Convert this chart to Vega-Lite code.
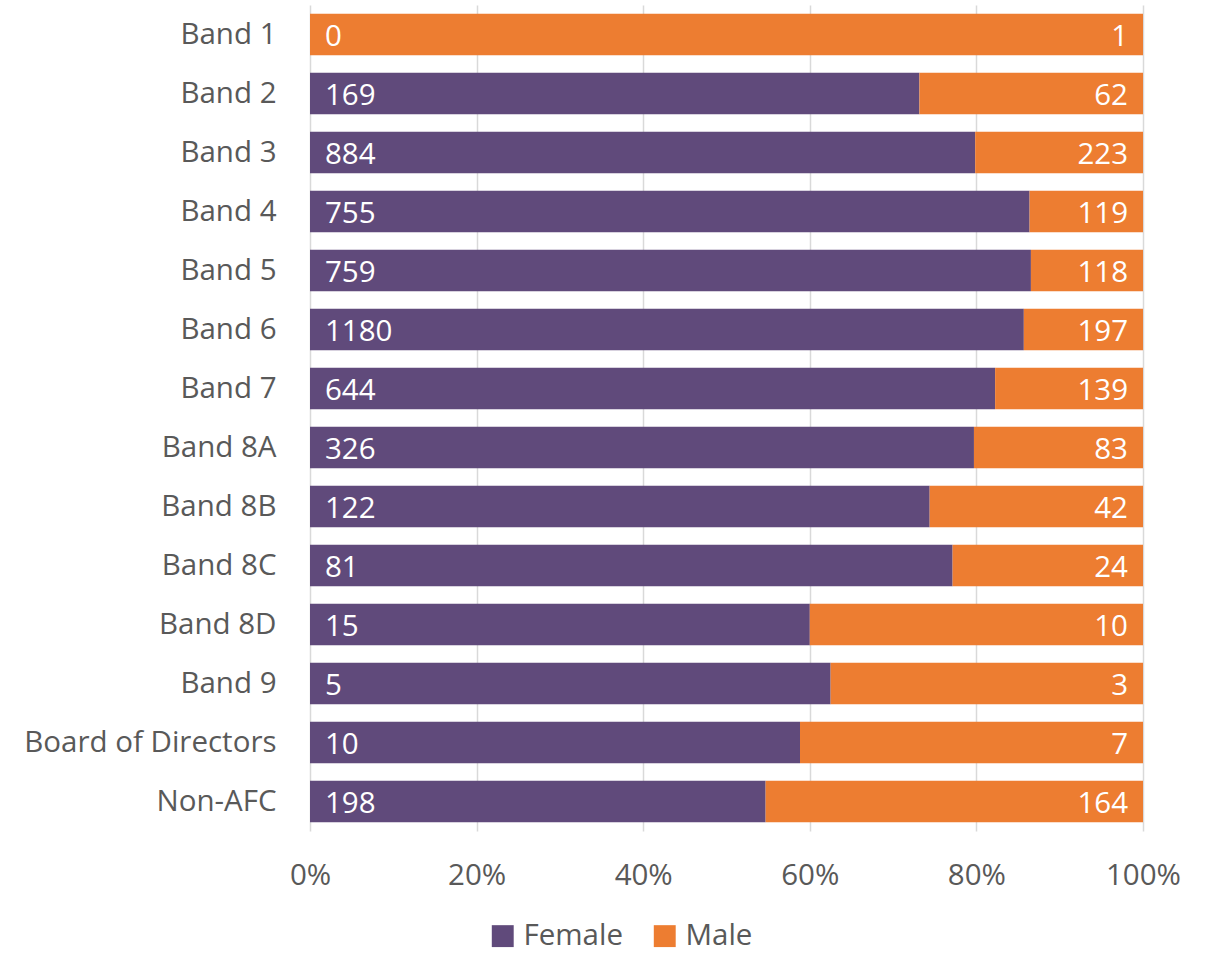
{
  "$schema": "https://vega.github.io/schema/vega-lite/v6.json",
  "width": 833,
  "height": 826,
  "autosize": "none",
  "padding": {"left": 310, "top": 5, "right": 65, "bottom": 123},
  "background": "white",
  "config": {
    "font": "Open Sans",
    "view": {"stroke": null},
    "axis": {"labelColor": "#595959", "labelFontSize": 29.5, "labelFont": "Open Sans", "title": null}
  },
  "data": {"values": [
    {"band": "Band 1", "sex": "Female", "count": 0},
    {"band": "Band 1", "sex": "Male", "count": 1},
    {"band": "Band 2", "sex": "Female", "count": 169},
    {"band": "Band 2", "sex": "Male", "count": 62},
    {"band": "Band 3", "sex": "Female", "count": 884},
    {"band": "Band 3", "sex": "Male", "count": 223},
    {"band": "Band 4", "sex": "Female", "count": 755},
    {"band": "Band 4", "sex": "Male", "count": 119},
    {"band": "Band 5", "sex": "Female", "count": 759},
    {"band": "Band 5", "sex": "Male", "count": 118},
    {"band": "Band 6", "sex": "Female", "count": 1180},
    {"band": "Band 6", "sex": "Male", "count": 197},
    {"band": "Band 7", "sex": "Female", "count": 644},
    {"band": "Band 7", "sex": "Male", "count": 139},
    {"band": "Band 8A", "sex": "Female", "count": 326},
    {"band": "Band 8A", "sex": "Male", "count": 83},
    {"band": "Band 8B", "sex": "Female", "count": 122},
    {"band": "Band 8B", "sex": "Male", "count": 42},
    {"band": "Band 8C", "sex": "Female", "count": 81},
    {"band": "Band 8C", "sex": "Male", "count": 24},
    {"band": "Band 8D", "sex": "Female", "count": 15},
    {"band": "Band 8D", "sex": "Male", "count": 10},
    {"band": "Band 9", "sex": "Female", "count": 5},
    {"band": "Band 9", "sex": "Male", "count": 3},
    {"band": "Board of Directors", "sex": "Female", "count": 10},
    {"band": "Board of Directors", "sex": "Male", "count": 7},
    {"band": "Non-AFC", "sex": "Female", "count": 198},
    {"band": "Non-AFC", "sex": "Male", "count": 164}
  ]},
  "encoding": {
    "y": {
      "field": "band", "type": "nominal", "sort": null,
      "scale": {"paddingInner": 0.3, "paddingOuter": 0.15},
      "axis": {"domain": false, "ticks": false, "labelPadding": 34, "labelLimit": 400}
    }
  },
  "layer": [
    {
      "mark": {"type": "bar"},
      "encoding": {
        "x": {
          "field": "count", "type": "quantitative", "stack": "normalize",
          "scale": {"domain": [0, 1]},
          "axis": {
            "format": "%", "values": [0, 0.2, 0.4, 0.6, 0.8, 1],
            "grid": true, "gridColor": "#d9d9d9", "gridWidth": 1.5,
            "domain": false, "ticks": false, "labelPadding": 30, "labelFlush": false
          }
        },
        "color": {
          "field": "sex", "type": "nominal",
          "scale": {"domain": ["Female", "Male"], "range": ["#604A7B", "#ED7D31"]},
          "legend": {
            "orient": "none", "legendX": 178, "legendY": 916,
            "direction": "horizontal", "title": null,
            "symbolType": "square", "symbolSize": 480, "symbolStrokeWidth": 0,
            "labelFontSize": 29.5, "labelColor": "#595959", "labelFont": "Open Sans",
            "labelOffset": 6, "columnPadding": 26, "labelLimit": 300
          }
        },
        "order": {"field": "sex", "sort": "ascending"}
      }
    },
    {
      "transform": [{"filter": "datum.sex === 'Female'"}],
      "mark": {"type": "text", "align": "left", "dx": 15, "dy": 2, "fontSize": 29.5, "color": "white", "font": "Open Sans"},
      "encoding": {
        "x": {"datum": 0, "type": "quantitative"},
        "text": {"field": "count", "type": "quantitative"}
      }
    },
    {
      "transform": [{"filter": "datum.sex === 'Male'"}],
      "mark": {"type": "text", "align": "right", "dx": -15, "dy": 2, "fontSize": 29.5, "color": "white", "font": "Open Sans"},
      "encoding": {
        "x": {"datum": 1, "type": "quantitative"},
        "text": {"field": "count", "type": "quantitative"}
      }
    }
  ]
}
